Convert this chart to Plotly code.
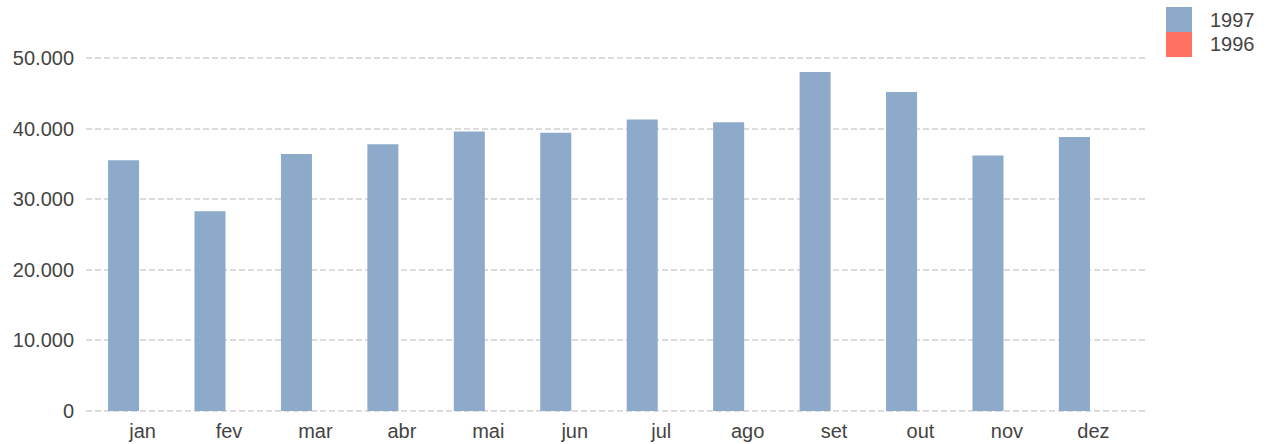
import plotly.graph_objects as go

months = ["jan", "fev", "mar", "abr", "mai", "jun", "jul", "ago", "set", "out", "nov", "dez"]
values_1997 = [35500, 28300, 36400, 37800, 39600, 39400, 41300, 40900, 48000, 45200, 36200, 38800]
values_1996 = [None] * 12
series_names = ["1997", "1996"]
series_colors = ["#8eaacb", "#ff7261"]
y_ticks = [0, 10000, 20000, 30000, 40000, 50000]

FONT = "Liberation Sans, Arial, sans-serif"
TXT = "#444444"
FS = 20

fig = go.Figure()
fig.add_trace(go.Bar(x=months, y=values_1997, name=series_names[0],
                     marker=dict(color=series_colors[0], line=dict(width=0)),
                     offset=-0.399, width=0.359, showlegend=False))
fig.add_trace(go.Bar(x=months, y=values_1996, name=series_names[1],
                     marker=dict(color=series_colors[1], line=dict(width=0)),
                     offset=0.04, width=0.359, showlegend=False))

W, H = 1268, 444
ml, mr, mt, mb = 86, 121, 55, 31
pw, ph = W - ml - mr, H - mt - mb
# y scale: 0 at px 411, 50000 at px 58
s = (411 - 58) / 50000.0
y_lo = -((H - mb) - 411) / s
y_hi = 50000 + (58 - mt) / s

def px2paper_x(px):
    return (px - ml) / pw
def px2paper_y(py):
    return (H - mb - py) / ph

shapes = []
annotations = []
for i, (nm, col) in enumerate(zip(series_names, series_colors)):
    y0 = 7 + 25 * i
    shapes.append(dict(type="rect", xref="paper", yref="paper",
                       x0=px2paper_x(1166), x1=px2paper_x(1192),
                       y0=px2paper_y(y0 + 25), y1=px2paper_y(y0),
                       fillcolor=col, line=dict(width=0), layer="above"))
    annotations.append(dict(xref="paper", yref="paper", x=px2paper_x(1208),
                            y=px2paper_y(y0 + 12.5), text=nm, showarrow=False,
                            xanchor="left", yanchor="middle",
                            font=dict(family=FONT, size=FS, color=TXT)))

fig.update_layout(
    width=W, height=H,
    margin=dict(l=ml, r=mr, t=mt, b=mb, autoexpand=False),
    paper_bgcolor="white", plot_bgcolor="white",
    barmode="overlay",
    separators=",.",
    font=dict(family=FONT, size=FS, color=TXT),
    shapes=shapes, annotations=annotations,
    showlegend=False,
    xaxis=dict(range=[-0.654, 11.62], showgrid=False, zeroline=False,
               showline=False, ticks="", ticklabelstandoff=4, automargin=False,
               tickfont=dict(size=FS, color=TXT)),
    yaxis=dict(range=[y_lo, y_hi], tickvals=y_ticks, tickformat=",.0f",
               showgrid=True, gridcolor="#dcdcdc", gridwidth=1.5, griddash="6px,3px",
               zeroline=False, showline=False, ticks="", ticklabelstandoff=11,
               automargin=False, tickfont=dict(size=FS, color=TXT)),
)

fig.write_html("out.html", config={"displayModeBar": False},
               post_script="document.body.style.margin='0';document.body.style.padding='0';")
